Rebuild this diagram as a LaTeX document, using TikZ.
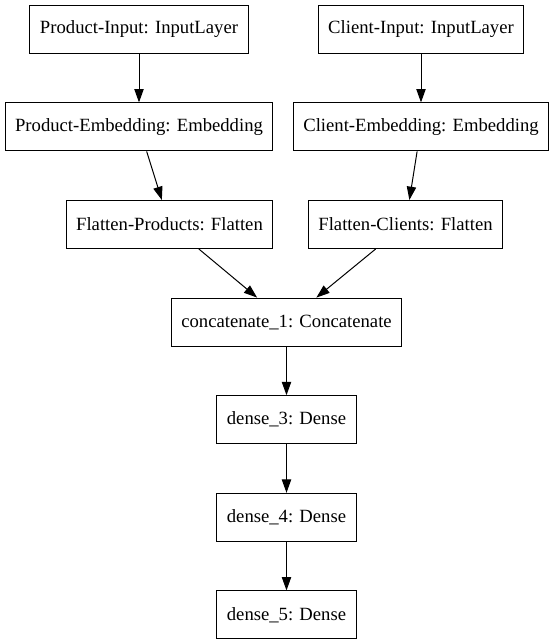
\documentclass[tikz,border=0pt]{standalone}
\usepackage{fontspec}
\setmainfont{Liberation Serif}
\usetikzlibrary{arrows.meta}

\tikzset{
    layer/.style = {draw, line width=0.75pt, minimum height=36pt, inner xsep=7.5pt,
                    font=\fontsize{14}{16}\selectfont},
    flow/.style  = {line width=0.75pt, -{Triangle[length=10pt, width=7pt]}}
}

\begin{document}
\begin{tikzpicture}[x=0.75pt, y=-0.75pt]

    \useasboundingbox (0,0) rectangle (552,644);

    % inputs and embeddings
    \node[layer] (pin)  at (139, 29.3)  {Product-Input: InputLayer};
    \node[layer] (cin)  at (421, 29.3)  {Client-Input: InputLayer};
    \node[layer] (pemb) at (139, 126.9) {Product-Embedding: Embedding};
    \node[layer] (cemb) at (421, 126.9) {Client-Embedding: Embedding};
    \node[layer] (pflat) at (169.5, 224.5) {Flatten-Products: Flatten};
    \node[layer] (cflat) at (405.5, 224.5) {Flatten-Clients: Flatten};

    % merged part
    \node[layer] (concat) at (286.5, 322.1) {concatenate\_1: Concatenate};
    \node[layer] (dthree) at (286.5, 419.7) {dense\_3: Dense};
    \node[layer] (dfour)  at (286.5, 517.3) {dense\_4: Dense};
    \node[layer] (dfive)  at (286.5, 614.9) {dense\_5: Dense};

    \draw[flow] (pin) -- (pemb);
    \draw[flow] (cin) -- (cemb);
    \draw[flow] (pemb) -- (pflat);
    \draw[flow] (cemb) -- (cflat);
    \draw[flow] (pflat) -- (concat);
    \draw[flow] (cflat) -- (concat);
    \draw[flow] (concat) -- (dthree);
    \draw[flow] (dthree) -- (dfour);
    \draw[flow] (dfour) -- (dfive);
\end{tikzpicture}
\end{document}
